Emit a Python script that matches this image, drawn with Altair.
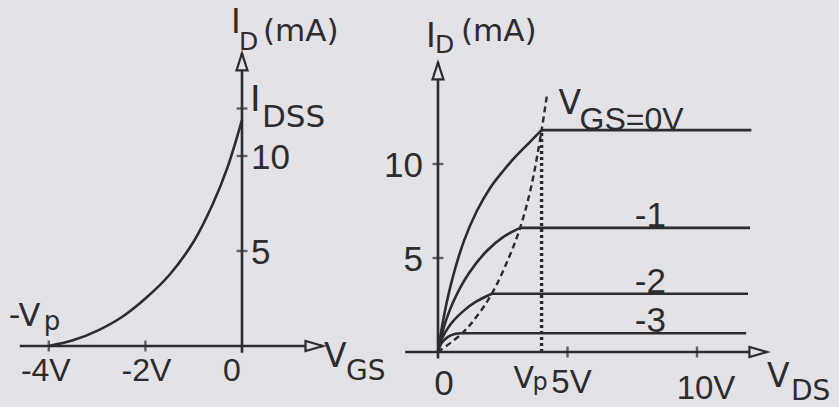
import altair as alt
import pandas as pd

INK = "#2c2c2e"
PAPER = "#e3e2e7"
FONT = "DejaVu Sans"
NUM_FONT = "Liberation Sans Narrow, Liberation Sans"
UNIT_FONT = "Liberation Sans"
LW = 2.6

# ---------------- transfer characteristic: I_D versus V_GS ----------------
vgs_transfer = [-4.0, -3.5, -3.0, -2.5, -2.0, -1.5, -1.0, -0.6, -0.3, 0.0]
id_transfer = [0.0, 0.3, 0.8, 1.5, 2.5, 3.75, 5.5, 7.5, 9.4, 11.9]
i_dss = 12.5
v_pinch = -4.0

left_xticks = [-4, -2]
left_xtick_labels = ["-4V", "-2V", "0"]
left_xlabel_pos = [-4, -2, 0]
left_yticks = [5, 10, 12.5]
left_ylabels = ["5", "10"]

# ---------------- output characteristics: I_D versus V_DS ----------------
vgs_levels = [0, -1, -2, -3]
level_labels = ["", "-1", "-2", "-3"]
# rising (ohmic) part of each curve, ending at the pinch-off knee
rise_vds = {
    0: [0.0, 0.2, 0.5, 1.0, 1.5, 2.0, 2.5, 3.0, 3.5, 4.0],
    -1: [0.0, 0.2, 0.6, 1.2, 1.9, 2.5, 3.17],
    -2: [0.0, 0.15, 0.5, 1.0, 1.5, 2.08],
    -3: [0.0, 0.15, 0.4, 0.65, 0.9],
}
rise_id = {
    0: [0.0, 1.7, 3.6, 5.9, 7.5, 8.7, 9.6, 10.4, 11.1, 11.8],
    -1: [0.0, 1.2, 2.7, 4.2, 5.4, 6.1, 6.6],
    -2: [0.0, 0.7, 1.5, 2.2, 2.7, 3.1],
    -3: [0.0, 0.5, 0.82, 0.96, 1.0],
}
# saturation part runs flat out to these V_DS values
flat_end_vds = {0: 12.1, -1: 12.05, -2: 11.97, -3: 11.9}

# pinch-off locus (dashed) and V_DS = Vp marker (dotted)
locus_vds = [0.0, 0.9, 1.5, 2.08, 2.7, 3.17, 3.6, 4.0, 4.22]
locus_id = [0.0, 0.95, 1.9, 3.1, 4.9, 6.6, 8.8, 11.8, 13.8]
vds_pinch = 4.0

right_xticks = [5, 10]
right_xtick_labels = ["5V", "10V"]
right_yticks = [5, 10]
right_ylabels = ["5", "10"]

# ---------------- panel geometry ----------------
LEFT_W, RIGHT_W, H = 390, 449, 407
xs_left = alt.Scale(domain=[-5.010, 3.064], nice=False, zero=False)
ys_left = alt.Scale(domain=[-3.21, 18.21], nice=False, zero=False)
xs_right = alt.Scale(domain=[-1.853, 15.483], nice=False, zero=False)
ys_right = alt.Scale(domain=[-2.926, 18.723], nice=False, zero=False)

UP_ARROW = "M0,0 L0.55,1.7 L-0.55,1.7 Z"
RIGHT_ARROW = "M0,0 L-1.75,-0.5 L-1.75,0.5 Z"
SMOOTH = "catmull-rom"


def enc(xs, ys, **extra):
    return dict(
        x=alt.X("x:Q", scale=xs, axis=None),
        y=alt.Y("y:Q", scale=ys, axis=None),
        **extra,
    )


def axes(xs, ys, x_from, x_tip, y_from, y_tip):
    h = alt.Chart(pd.DataFrame({"x": [x_from], "x2": [x_tip], "y": [0.0]})).mark_rule(
        color=INK, strokeWidth=LW
    ).encode(x=alt.X("x:Q", scale=xs, axis=None), x2="x2:Q", y=alt.Y("y:Q", scale=ys, axis=None))
    v = alt.Chart(pd.DataFrame({"x": [0.0], "y": [y_from], "y2": [y_tip]})).mark_rule(
        color=INK, strokeWidth=LW
    ).encode(x=alt.X("x:Q", scale=xs, axis=None), y=alt.Y("y:Q", scale=ys, axis=None), y2="y2:Q")
    up = alt.Chart(pd.DataFrame({"x": [0.0], "y": [y_tip]})).mark_point(
        shape=UP_ARROW, size=400, filled=True, fill=PAPER, stroke=INK, strokeWidth=2.2, opacity=1
    ).encode(**enc(xs, ys))
    right = alt.Chart(pd.DataFrame({"x": [x_tip], "y": [0.0]})).mark_point(
        shape=RIGHT_ARROW, size=400, filled=True, fill=PAPER, stroke=INK, strokeWidth=2.2, opacity=1
    ).encode(**enc(xs, ys))
    return [h, v, up, right]


def ticks(xs, ys, xvals, yvals):
    out = []
    if xvals:
        out.append(
            alt.Chart(pd.DataFrame({"x": xvals, "y": [0.0] * len(xvals)}))
            .mark_tick(orient="vertical", size=11, thickness=2.4, color=INK)
            .encode(**enc(xs, ys))
        )
    if yvals:
        out.append(
            alt.Chart(pd.DataFrame({"x": [0.0] * len(yvals), "y": yvals}))
            .mark_tick(orient="horizontal", size=11, thickness=2.4, color=INK)
            .encode(**enc(xs, ys))
        )
    return out


def label(txt, x, y, xs, ys, dx=0, dy=0, size=32, align="left", font=FONT):
    return (
        alt.Chart(pd.DataFrame({"x": [x], "y": [y], "t": [txt]}))
        .mark_text(align=align, baseline="alphabetic", dx=dx, dy=dy, fontSize=size, font=font, color=INK)
        .encode(**enc(xs, ys, text="t:N"))
    )


# ---------------- left panel ----------------
transfer = (
    alt.Chart(pd.DataFrame({"x": vgs_transfer, "y": id_transfer}))
    .mark_line(color=INK, strokeWidth=LW, interpolate=SMOOTH)
    .encode(**enc(xs_left, ys_left))
)

L_TIP_X, L_TIP_Y = 1.677, 15.4
left_layers = axes(xs_left, ys_left, -4.6, L_TIP_X, -0.35, L_TIP_Y)
left_layers += ticks(xs_left, ys_left, left_xticks, left_yticks)
left_layers.append(transfer)

# axis titles
left_layers += [
    label("I", 0, L_TIP_Y, xs_left, ys_left, dx=-11, dy=-20, size=33),
    label("D", 0, L_TIP_Y, xs_left, ys_left, dx=-3, dy=-3, size=25),
    label("(mA)", 0, L_TIP_Y, xs_left, ys_left, dx=21, dy=-12, size=31),
    label("V", L_TIP_X, 0, xs_left, ys_left, dx=1, dy=21, size=33),
    label("GS", L_TIP_X, 0, xs_left, ys_left, dx=23, dy=34, size=28),
    label("I", 0, i_dss, xs_left, ys_left, dx=8, dy=3, size=36),
    label("DSS", 0, i_dss, xs_left, ys_left, dx=20, dy=19, size=31),
    label("-V", v_pinch, 0, xs_left, ys_left, dx=-40, dy=-20, size=32),
    label("p", v_pinch, 0, xs_left, ys_left, dx=-5, dy=-16, size=26),
]
for val, txt in zip(left_xlabel_pos, left_xtick_labels):
    left_layers.append(label(txt, val, 0, xs_left, ys_left, dx=-3 if val == -4 else (1 if val == -2 else -10),
                             dy=35, size=32, align="center", font=UNIT_FONT if "V" in txt else NUM_FONT))
for val, txt in zip([5, 10], left_ylabels):
    left_layers.append(label(txt, 0, val, xs_left, ys_left, dx=9, dy=13, size=35, font=NUM_FONT))

left = alt.layer(*left_layers).properties(width=LEFT_W, height=H)

# ---------------- right panel ----------------
rows = []
for g in vgs_levels:
    for v, i in zip(rise_vds[g], rise_id[g]):
        rows.append({"vgs": g, "part": "rise", "x": v, "y": i})
    knee_v, knee_i = rise_vds[g][-1], rise_id[g][-1]
    rows.append({"vgs": g, "part": "flat", "x": knee_v, "y": knee_i})
    rows.append({"vgs": g, "part": "flat", "x": flat_end_vds[g], "y": knee_i})
curves_df = pd.DataFrame(rows)
curves_df["key"] = curves_df["vgs"].astype(str) + curves_df["part"]

curves = (
    alt.Chart(curves_df)
    .mark_line(color=INK, strokeWidth=LW, interpolate=SMOOTH)
    .encode(**enc(xs_right, ys_right, detail="key:N", order=alt.Order("x:Q")))
)

locus = (
    alt.Chart(pd.DataFrame({"x": locus_vds, "y": locus_id}))
    .mark_line(color=INK, strokeWidth=2.4, strokeDash=[6, 4], interpolate=SMOOTH)
    .encode(**enc(xs_right, ys_right))
)

pinch_line = (
    alt.Chart(pd.DataFrame({"x": [vds_pinch], "y": [0.0], "y2": [rise_id[0][-1]]}))
    .mark_rule(color=INK, strokeWidth=3.4, strokeDash=[3, 3])
    .encode(x=alt.X("x:Q", scale=xs_right, axis=None), y=alt.Y("y:Q", scale=ys_right, axis=None), y2="y2:Q")
)

level_df = pd.DataFrame(
    {
        "x": [7.6] * 3,
        "y": [rise_id[g][-1] for g in vgs_levels[1:]],
        "t": level_labels[1:],
    }
)
level_text = (
    alt.Chart(level_df)
    .mark_text(align="left", baseline="alphabetic", dy=-1, fontSize=35, font=NUM_FONT, color=INK)
    .encode(**enc(xs_right, ys_right, text="t:N"))
)

R_TIP_X, R_TIP_Y = 12.7, 15.4
right_layers = axes(xs_right, ys_right, -1.27, R_TIP_X, -0.35, R_TIP_Y)
right_layers += ticks(xs_right, ys_right, right_xticks, right_yticks)
right_layers += [pinch_line, locus, curves, level_text]

knee0 = (rise_vds[0][-1], rise_id[0][-1])
right_layers += [
    label("I", 0, R_TIP_Y, xs_right, ys_right, dx=-12, dy=-15, size=33),
    label("D", 0, R_TIP_Y, xs_right, ys_right, dx=-3, dy=-9, size=25),
    label("(mA)", 0, R_TIP_Y, xs_right, ys_right, dx=23, dy=-21, size=31),
    label("V", R_TIP_X, 0, xs_right, ys_right, dx=0, dy=35, size=33),
    label("DS", R_TIP_X, 0, xs_right, ys_right, dx=24, dy=48, size=28),
    label("V", knee0[0], knee0[1], xs_right, ys_right, dx=17, dy=-16, size=33),
    label("GS=0V", knee0[0], knee0[1], xs_right, ys_right, dx=38, dy=0, size=32, font=UNIT_FONT),
    label("0", 0, 0, xs_right, ys_right, dx=6, dy=43, size=35, align="center", font=NUM_FONT),
    label("V", vds_pinch, 0, xs_right, ys_right, dx=-28, dy=36, size=30),
    label("p", vds_pinch, 0, xs_right, ys_right, dx=-9, dy=38, size=24),
]
for val, txt in zip(right_xticks, right_xtick_labels):
    right_layers.append(label(txt, val, 0, xs_right, ys_right, dx=4 if val == 5 else 9,
                              dy=41 if val == 5 else 47, size=33, align="center", font=UNIT_FONT))
for val, txt in zip(right_yticks, right_ylabels):
    right_layers.append(label(txt, 0, val, xs_right, ys_right, dx=-15, dy=13, size=35,
                              align="right", font=NUM_FONT))

right = alt.layer(*right_layers).properties(width=RIGHT_W, height=H)

chart = (
    alt.hconcat(left, right, spacing=0, bounds="flush")
    .configure_view(stroke=None)
    .properties(background=PAPER, padding=0)
)

chart.save("out.html", embed_options={"renderer": "svg", "actions": False})
